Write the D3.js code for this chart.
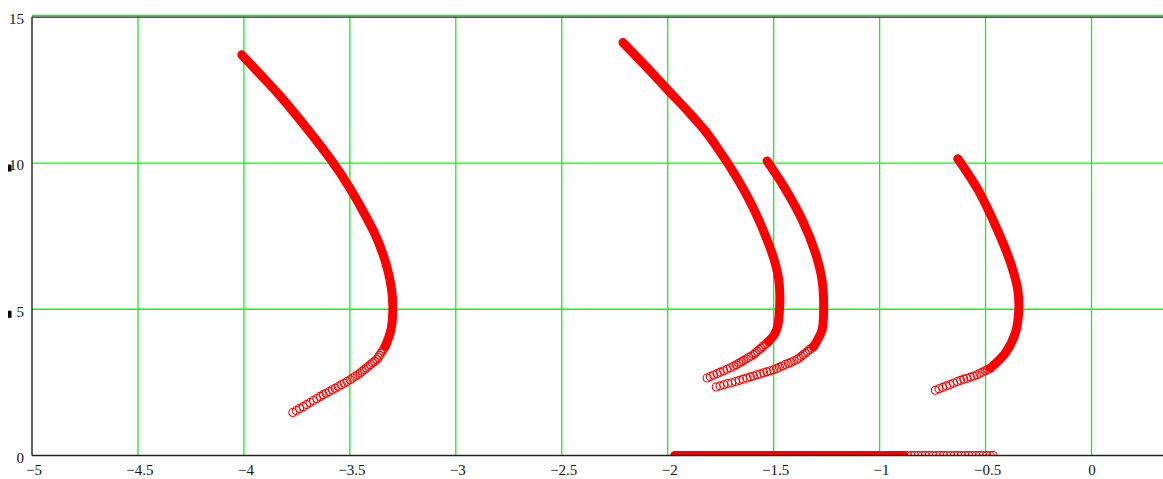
<!DOCTYPE html>
<html>
<head>
<meta charset="utf-8">
<script src="https://cdn.jsdelivr.net/npm/d3@7"></script>
<style>
  html, body { margin: 0; padding: 0; background: #fff; }
  svg { display: block; }
</style>
</head>
<body>
<svg id="chart" width="1163" height="479"></svg>
<script>
// Axis ticks
const xTicks = [-5, -4.5, -4, -3.5, -3, -2.5, -2, -1.5, -1, -0.5, 0];
const yTicks = [0, 5, 10, 15];
const markedYTicks = [5, 10];

// Trace 1 (left loop): densely sampled stretch, then the sparse tail
const trace1Band = [[-4.010,13.70],[-3.924,13.04],[-3.829,12.29],[-3.687,11.04],[-3.585,10.07],
  [-3.506,9.21],[-3.442,8.41],[-3.378,7.52],[-3.343,6.87],[-3.318,6.25],[-3.303,5.67],
  [-3.297,5.05],[-3.306,4.30],[-3.333,3.73]];
const trace1Tail = [[-3.333,3.73],[-3.340,3.65],[-3.346,3.58],[-3.353,3.50],[-3.360,3.43],[-3.366,3.35],
  [-3.373,3.28],[-3.383,3.22],[-3.393,3.17],[-3.403,3.11],[-3.412,3.05],[-3.422,2.99],[-3.432,2.94],
  [-3.442,2.88],[-3.451,2.82],[-3.463,2.76],[-3.475,2.71],[-3.487,2.65],[-3.499,2.59],
  [-3.513,2.53],[-3.527,2.47],[-3.541,2.42],[-3.555,2.36],[-3.569,2.30],[-3.583,2.25],[-3.597,2.19],
  [-3.612,2.13],[-3.626,2.08],[-3.640,2.02],[-3.656,1.95],[-3.672,1.88],[-3.688,1.81],[-3.704,1.74],
  [-3.720,1.67],[-3.737,1.61],[-3.753,1.54],[-3.769,1.47]];

// Trace 2
const trace2Band = [[-2.211,14.12],[-2.106,13.33],[-2.002,12.52],[-1.893,11.68],[-1.822,11.09],
  [-1.761,10.47],[-1.704,9.85],[-1.642,9.10],[-1.605,8.59],[-1.571,8.07],[-1.539,7.52],[-1.508,6.93],
  [-1.490,6.50],[-1.476,6.02],[-1.471,5.54],[-1.472,5.05],[-1.481,4.42],[-1.497,4.13],[-1.524,3.90]];
const trace2Tail = [[-1.524,3.90],[-1.533,3.84],[-1.542,3.79],[-1.551,3.73],[-1.559,3.67],[-1.568,3.62],
  [-1.577,3.56],[-1.586,3.51],[-1.594,3.45],[-1.606,3.40],[-1.618,3.35],[-1.630,3.30],[-1.642,3.25],
  [-1.653,3.20],[-1.665,3.15],[-1.677,3.10],[-1.689,3.05],[-1.705,3.00],[-1.720,2.95],[-1.736,2.90],
  [-1.752,2.85],[-1.767,2.80],[-1.783,2.75],[-1.799,2.70],[-1.814,2.65]];

// Trace 3
const trace3Band = [[-1.531,10.07],[-1.453,9.21],[-1.366,8.07],[-1.303,6.93],[-1.272,6.02],
  [-1.264,5.10],[-1.271,4.30],[-1.288,4.02],[-1.311,3.73]];
const trace3Tail = [[-1.311,3.73],[-1.321,3.67],[-1.331,3.62],[-1.341,3.56],[-1.350,3.50],[-1.360,3.45],
  [-1.370,3.39],[-1.380,3.33],[-1.390,3.28],[-1.404,3.24],[-1.418,3.19],[-1.431,3.15],[-1.445,3.11],
  [-1.459,3.06],[-1.473,3.02],[-1.486,2.97],[-1.500,2.93],[-1.516,2.90],[-1.532,2.86],[-1.547,2.83],
  [-1.563,2.79],[-1.579,2.76],[-1.595,2.72],[-1.610,2.69],[-1.626,2.65],[-1.644,2.61],[-1.662,2.57],
  [-1.680,2.53],[-1.698,2.49],[-1.717,2.46],[-1.735,2.42],[-1.753,2.38],[-1.771,2.34]];

// Trace 4 (right)
const trace4Band = [[-0.631,10.15],[-0.532,9.04],[-0.445,7.73],[-0.382,6.59],[-0.348,5.67],
  [-0.343,4.99],[-0.359,4.19],[-0.406,3.51],[-0.477,2.99]];
const trace4Tail = [[-0.477,2.99],[-0.490,2.94],[-0.502,2.90],[-0.515,2.85],[-0.527,2.81],[-0.540,2.76],
  [-0.556,2.72],[-0.571,2.68],[-0.587,2.64],[-0.603,2.61],[-0.618,2.57],[-0.634,2.53],[-0.651,2.48],
  [-0.668,2.43],[-0.685,2.38],[-0.702,2.33],[-0.720,2.28],[-0.737,2.23]];

// Trace 5: points lying on y = 0
const trace5Band = [[-1.967,0],[-0.886,0]];
const trace5TailX = [-0.886,-0.869,-0.851,-0.835,-0.818,-0.800,-0.784,-0.767,-0.749,-0.733,-0.716,
  -0.698,-0.682,-0.665,-0.647,-0.631,-0.614,-0.596,-0.580,-0.563,-0.545,-0.529,-0.512,-0.494,-0.478,-0.464];
const trace5Tail = trace5TailX.map(v => [v, 0]);

const traces = [
  { band: trace1Band, tail: trace1Tail },
  { band: trace2Band, tail: trace2Tail },
  { band: trace3Band, tail: trace3Tail },
  { band: trace4Band, tail: trace4Tail },
  { band: trace5Band, tail: trace5Tail }
];

const W = 1163, H = 479;
const RED = "#ff0000", GRID = "#00ff00", AXIS = "#111";
const FONT = "'Liberation Serif', 'Times New Roman', serif";

const x = d3.scaleLinear().domain([-5, 0]).range([32, 1091.5]);
const y = d3.scaleLinear().domain([0, 15]).range([455.5, 16.8]);
const plotLeft = x(-5), plotBottom = y(0), plotTop = y(15);

const svg = d3.select("#chart");
svg.append("rect").attr("width", W).attr("height", H).attr("fill", "#fff");

svg.append("defs").append("clipPath").attr("id", "plot-clip")
  .append("rect").attr("x", plotLeft).attr("y", plotTop)
  .attr("width", W - plotLeft).attr("height", plotBottom - plotTop);

// Grid
const grid = svg.append("g");
grid.selectAll("line.v").data(xTicks.filter(d => d > -5)).join("line")
  .attr("class", "v")
  .attr("x1", d => x(d)).attr("x2", d => x(d)).attr("y1", plotTop).attr("y2", plotBottom)
  .attr("stroke", GRID).attr("stroke-width", 1.3);
grid.selectAll("line.h").data(yTicks.filter(d => d > 0)).join("line")
  .attr("class", "h")
  .attr("x1", plotLeft).attr("x2", W)
  .attr("y1", d => d === 15 ? y(d) - 1.3 : y(d)).attr("y2", d => d === 15 ? y(d) - 1.3 : y(d))
  .attr("stroke", GRID).attr("stroke-width", 1.3);

// Traces
const plot = svg.append("g").attr("clip-path", "url(#plot-clip)");
const line = d3.line().x(d => x(d[0])).y(d => y(d[1])).curve(d3.curveCatmullRom.alpha(0.5));
traces.forEach(t => {
  plot.append("path").attr("d", line(t.band))
    .attr("fill", "none").attr("stroke", RED).attr("stroke-width", 9)
    .attr("stroke-linecap", "round").attr("stroke-linejoin", "round");
  plot.append("g").selectAll("circle").data(t.tail).join("circle")
    .attr("cx", d => x(d[0])).attr("cy", d => y(d[1])).attr("r", 4)
    .attr("fill", "none").attr("stroke", RED).attr("stroke-width", 1.1);
});

// Axis frame
const frame = svg.append("g").attr("stroke", "#222").attr("stroke-width", 1.4);
frame.append("line").attr("x1", plotLeft).attr("x2", plotLeft).attr("y1", plotTop).attr("y2", plotBottom);
frame.append("line").attr("x1", plotLeft).attr("x2", W).attr("y1", plotBottom).attr("y2", plotBottom);
frame.append("line").attr("x1", plotLeft).attr("x2", W).attr("y1", plotTop + 0.3).attr("y2", plotTop + 0.3);

// Tick labels
const fmt = d3.format("");
const xAxis = svg.append("g").attr("transform", `translate(0,${plotBottom})`)
  .call(d3.axisBottom(x).tickValues(xTicks).tickSize(0).tickPadding(9).tickFormat(fmt));
xAxis.select(".domain").remove();
xAxis.selectAll("text").attr("font-family", FONT).attr("font-size", 15).attr("fill", AXIS)
  .attr("dx", d => d < 0 ? 1.5 : 0);

const yAxis = svg.append("g").attr("transform", `translate(${plotLeft},0)`)
  .call(d3.axisLeft(y).tickValues(yTicks).tickSize(0).tickPadding(8).tickFormat(fmt));
yAxis.select(".domain").remove();
yAxis.selectAll("text").attr("font-family", FONT).attr("font-size", 15).attr("fill", AXIS)
  .attr("dy", "0.45em");

// Small markers beside the 5 and 10 labels
svg.append("g").selectAll("rect").data(markedYTicks).join("rect")
  .attr("x", 8).attr("y", d => y(d) + 1.5).attr("width", 3.5).attr("height", 7).attr("fill", "#000");
</script>
</body>
</html>
